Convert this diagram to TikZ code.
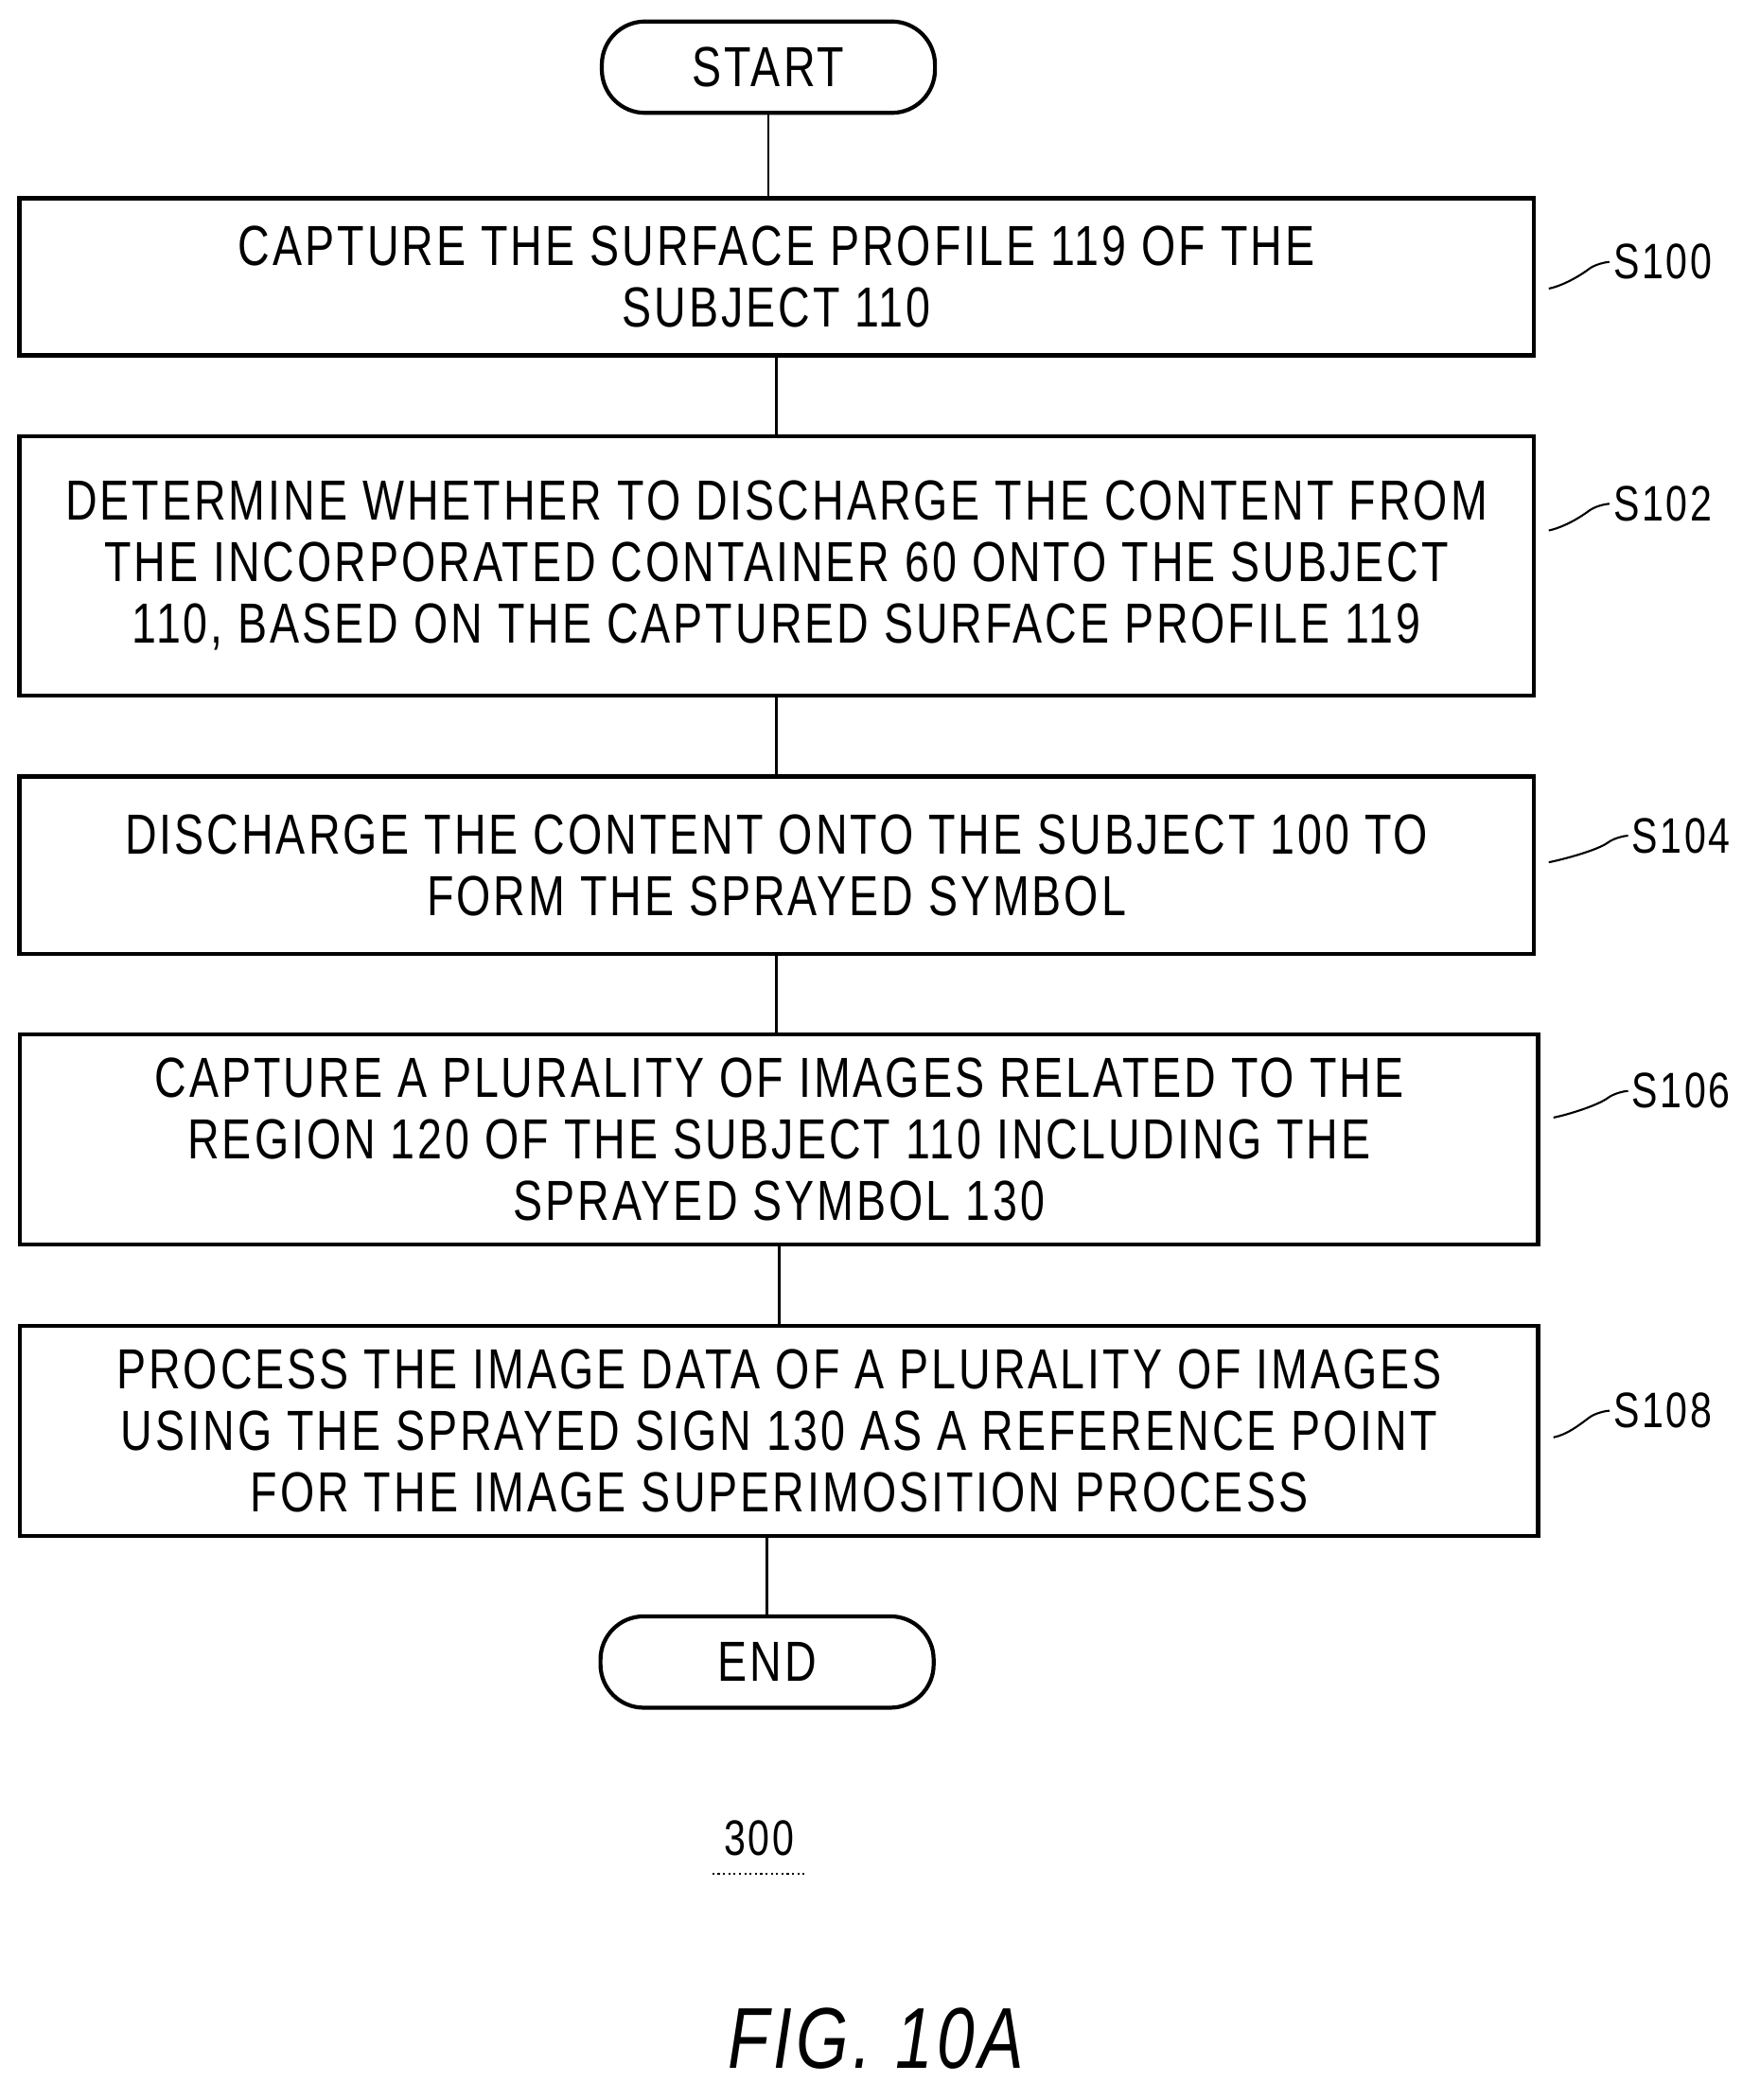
\documentclass[tikz,border=0pt]{standalone}
\usepackage{fontspec}
\setmainfont{Liberation Sans}[FakeStretch=0.78, LetterSpace=5]
\usetikzlibrary{positioning, decorations.pathmorphing}
\tikzset{
	x=0.0142cm, y=-0.0142cm,
	every text node part/.style= {
		align=center
	},
	stepbox/.style= {
		rectangle,
		draw,
		line width=1.2pt,
		minimum width=1127*0.0142cm,
		font=\fontsize{17}{18.5}\selectfont,
		inner sep=0pt
	},
	terminal/.style= {
		rectangle,
		rounded corners=13pt,
		draw,
		line width=1.2pt,
		minimum width=248*0.0142cm,
		minimum height=68*0.0142cm,
		font=\fontsize{17}{18.5}\selectfont
	},
	steplabel/.style= {
		font=\fontsize{15}{16}\selectfont,
		anchor=west,
		inner sep=1pt
	},
	link/.style= {
		line width=0.8pt
	},
	leader/.style= {
		line width=0.6pt
	}
}

\begin{document}
\begin{tikzpicture}
	\useasboundingbox (0,0) rectangle (1310,1563);

	\node (start)[terminal] at (572,50) {START};

	\node (s100)[stepbox, minimum height=117*0.0142cm] at (578,206) {CAPTURE THE SURFACE PROFILE 119 OF THE\\SUBJECT 110};
	\node (s102)[stepbox, minimum height=193*0.0142cm] at (578,421) {DETERMINE WHETHER TO DISCHARGE THE CONTENT FROM\\THE INCORPORATED CONTAINER 60 ONTO THE SUBJECT\\110, BASED ON THE CAPTURED SURFACE PROFILE 119};
	\node (s104)[stepbox, minimum height=132*0.0142cm] at (578,644) {DISCHARGE THE CONTENT ONTO THE SUBJECT 100 TO\\FORM THE SPRAYED SYMBOL};
	\node (s106)[stepbox, minimum height=156*0.0142cm, minimum width=1130*0.0142cm] at (580,848) {CAPTURE A PLURALITY OF IMAGES RELATED TO THE\\REGION 120 OF THE SUBJECT 110 INCLUDING THE\\SPRAYED SYMBOL 130};
	\node (s108)[stepbox, minimum height=156*0.0142cm, minimum width=1130*0.0142cm] at (580,1065) {PROCESS THE IMAGE DATA OF A PLURALITY OF IMAGES\\USING THE SPRAYED SIGN 130 AS A REFERENCE POINT\\FOR THE IMAGE SUPERIMOSITION PROCESS};

	\node (end)[terminal] at (571,1237) {END};

	\draw[link] (start) -- (start |- s100.north);
	\draw[link] (s100) -- (s102);
	\draw[link] (s102) -- (s104);
	\draw[link] (s104) -- (s104 |- s106.north);
	\draw[link] (s106) -- (s108);
	\draw[link] (s108.south -| end) -- (end);

	% step labels with wavy leaders
	\foreach \s/\txt/\y/\lx in {s100/S100/195/1198, s102/S102/375/1198, s104/S104/622/1212, s106/S106/812/1212, s108/S108/1050/1198}
	{
		\node (lab\s)[steplabel] at (\lx,\y) {\txt};
		\draw[leader] ([xshift=4pt, yshift=-8pt]\s.east |- lab\s) .. controls +(10,-2) and +(-8,6) .. ([xshift=-6pt, yshift=-2pt]lab\s.west) .. controls +(4,-3) and +(-3,0) .. (lab\s.west);
	}

	\node (fignum)[font=\fontsize{15}{16}\selectfont] at (565,1368) {300};
	\draw[leader, densely dotted] ([yshift=-2pt]fignum.south west) -- ([yshift=-2pt]fignum.south east);
	\node (figtitle)[font=\fontsize{26}{28}\selectfont\itshape] at (652,1517) {FIG. 10A};
\end{tikzpicture}
\end{document}
